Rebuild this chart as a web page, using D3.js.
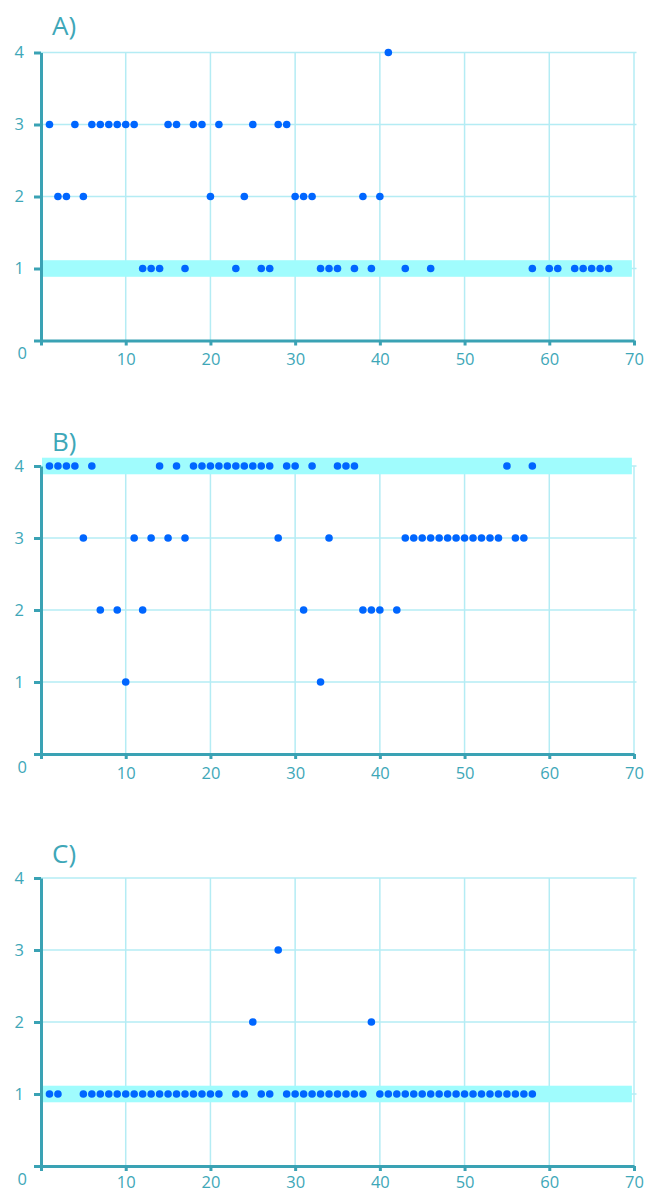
<!DOCTYPE html>
<html>
<head>
<meta charset="utf-8">
<script src="https://cdn.jsdelivr.net/npm/d3@7"></script>
<style>
  html, body { margin: 0; padding: 0; background: #fff; }
  svg { display: block; }
  text { font-family: "Open Sans", "Noto Sans", sans-serif; }
</style>
</head>
<body>
<svg id="chart" width="653" height="1192"></svg>
<script>
// ---------- data ----------
const panelTitles = ["A)", "B)", "C)"];
const xTicks = [0, 10, 20, 30, 40, 50, 60, 70];
const yTicks = [0, 1, 2, 3, 4];
const bandLevels = [1, 4, 1];

const aLevel4 = [41];
const aLevel3 = [1, 4, 6, 7, 8, 9, 10, 11, 15, 16, 18, 19, 21, 25, 28, 29];
const aLevel2 = [2, 3, 5, 20, 24, 30, 31, 32, 38, 40];
const aLevel1 = [12, 13, 14, 17, 23, 26, 27, 33, 34, 35, 37, 39, 43, 46, 58, 60, 61, 63, 64, 65, 66, 67];

const bLevel4 = [1, 2, 3, 4, 6, 14, 16, 18, 19, 20, 21, 22, 23, 24, 25, 26, 27, 29, 30, 32, 35, 36, 37, 55, 58];
const bLevel3 = [5, 11, 13, 15, 17, 28, 34, 43, 44, 45, 46, 47, 48, 49, 50, 51, 52, 53, 54, 56, 57];
const bLevel2 = [7, 9, 12, 31, 38, 39, 40, 42];
const bLevel1 = [10, 33];

const cLevel3 = [28];
const cLevel2 = [25, 39];
const cLevel1 = [1, 2, 5, 6, 7, 8, 9, 10, 11, 12, 13, 14, 15, 16, 17, 18, 19, 20, 21, 23, 24, 26, 27,
                 29, 30, 31, 32, 33, 34, 35, 36, 37, 38, 40, 41, 42, 43, 44, 45, 46, 47, 48, 49, 50,
                 51, 52, 53, 54, 55, 56, 57, 58];

const panelLevels = [
  [[4, aLevel4], [3, aLevel3], [2, aLevel2], [1, aLevel1]],
  [[4, bLevel4], [3, bLevel3], [2, bLevel2], [1, bLevel1]],
  [[3, cLevel3], [2, cLevel2], [1, cLevel1]]
];

// ---------- layout ----------
const panelTops = [52.5, 466, 878];
const plotH = 288;
const xLeft = 41, xRight = 634;
const axisColor = "#3aa2b4";
const textColor = "#3ea7b8";
const gridColor = "#b4ecf4";
const bandColor = "#a0fcfd";
const dotColor = "#0066ff";
const bandHalf = 0.115;
const bandEnd = 69.75;

const svg = d3.select("#chart");
const x = d3.scaleLinear().domain([0, 70]).range([xLeft, xRight]);

panelTitles.forEach((title, i) => {
  const top = panelTops[i];
  const y = d3.scaleLinear().domain([0, 4]).range([top + plotH, top]);
  const g = svg.append("g");

  // vertical grid
  g.append("g")
    .selectAll("line")
    .data(xTicks.filter(d => d > 0))
    .join("line")
    .attr("x1", d => x(d)).attr("x2", d => x(d))
    .attr("y1", y(4)).attr("y2", y(0))
    .attr("stroke", gridColor).attr("stroke-width", 1.5);

  // horizontal grid
  g.append("g")
    .selectAll("line")
    .data(yTicks.filter(d => d > 0))
    .join("line")
    .attr("x1", xLeft).attr("x2", xRight + 2.5)
    .attr("y1", d => y(d)).attr("y2", d => y(d))
    .attr("stroke", gridColor).attr("stroke-width", 1.5);

  // highlight band
  const lvl = bandLevels[i];
  g.append("rect")
    .attr("x", x(0) + 1)
    .attr("width", x(bandEnd) - x(0) - 1)
    .attr("y", y(lvl + bandHalf))
    .attr("height", y(lvl - bandHalf) - y(lvl + bandHalf))
    .attr("fill", bandColor);

  // y axis
  const yAxis = g.append("g")
    .attr("transform", `translate(${xLeft},0)`)
    .call(d3.axisLeft(y).tickValues(yTicks).tickFormat(d3.format("d"))
      .tickSize(7).tickSizeOuter(0).tickPadding(10));
  yAxis.select(".domain").attr("stroke", axisColor).attr("stroke-width", 3);
  yAxis.selectAll(".tick line").attr("stroke", axisColor).attr("stroke-width", 3);
  yAxis.selectAll(".tick text")
    .attr("fill", textColor).attr("font-size", 16.5)
    .filter(d => d === 0)
    .attr("x", -14)
    .attr("dy", "1.1em");

  // x axis
  const last = i === panelTitles.length - 1;
  const xAxis = g.append("g")
    .attr("transform", `translate(0,${y(0)})`)
    .call(d3.axisBottom(x).tickValues(xTicks).tickSize(5).tickSizeOuter(0).tickPadding(last ? 5.5 : 8)
      .tickFormat(d => d === 0 ? "" : d));
  xAxis.select(".domain").attr("stroke", axisColor).attr("stroke-width", 3);
  xAxis.selectAll(".tick line").attr("stroke", axisColor).attr("stroke-width", 3);
  xAxis.selectAll(".tick text").attr("fill", textColor).attr("font-size", 16.5);

  // title
  g.append("text")
    .attr("x", 52)
    .attr("y", top - (i === 0 ? 17.5 : 15))
    .attr("fill", textColor)
    .attr("font-size", 26)
    .text(title);

  // dots
  panelLevels[i].forEach(([level, xs]) => {
    g.append("g")
      .selectAll("circle")
      .data(xs)
      .join("circle")
      .attr("cx", d => x(d))
      .attr("cy", y(level))
      .attr("r", 3.8)
      .attr("fill", dotColor);
  });
});
</script>
</body>
</html>
